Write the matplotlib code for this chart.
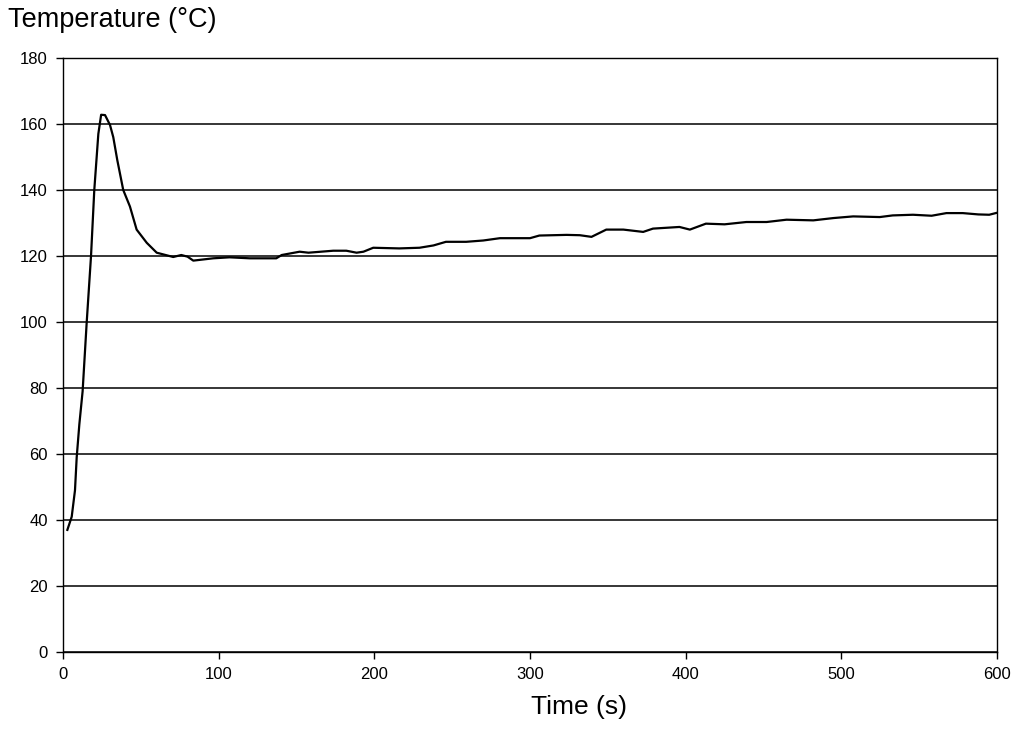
import numpy as np
from matplotlib import pyplot as plt

plt.rcParams['font.family'] = ['Liberation Sans', 'DejaVu Sans']

# values
time_s = [2.8, 5.6, 7.7, 8.8, 10.5, 12.6, 15.2, 18.0, 20.1, 22.7, 24.5, 27.0,
          30.2, 32.3, 34.9, 38.7, 43.0, 47.3, 53.8, 60.2, 70.8, 76.0, 80.0,
          83.7, 96.5, 107.0, 120.0, 137.0, 140.5, 152.0, 157.7, 173.6, 182.0,
          188.6, 193.0, 199.3, 216.0, 229.0, 238.0, 246.0, 259.0, 270.0,
          280.7, 300.0, 306.0, 323.5, 332.0, 339.5, 349.0, 360.0, 372.7, 379.0,
          396.0, 402.7, 413.0, 425.0, 439.0, 452.0, 464.8, 482.0, 495.0, 507.6,
          524.7, 533.0, 546.0, 558.0, 567.5, 578.0, 588.0, 595.0, 600.0]
temp_c = [37.0, 41.0, 49.0, 59.0, 69.0, 79.0, 99.7, 120.0, 140.0, 157.0, 162.8,
          162.7, 159.7, 156.0, 149.0, 140.0, 135.0, 128.0, 124.0, 121.0, 119.7,
          120.3, 119.8, 118.6, 119.3, 119.6, 119.3, 119.3, 120.3, 121.3, 121.0,
          121.6, 121.6, 121.0, 121.3, 122.5, 122.3, 122.5, 123.2, 124.3, 124.3,
          124.7, 125.4, 125.4, 126.2, 126.4, 126.3, 125.8, 128.0, 128.0, 127.3,
          128.3, 128.8, 128.0, 129.8, 129.6, 130.3, 130.3, 131.0, 130.8, 131.5,
          132.0, 131.8, 132.3, 132.5, 132.2, 133.0, 133.0, 132.6, 132.5, 133.1]
x_ticks = [0, 100, 200, 300, 400, 500, 600]
y_ticks = [0, 20, 40, 60, 80, 100, 120, 140, 160, 180]

fig = plt.figure(figsize=(10.14, 7.39), dpi=100)
ax = fig.add_axes([63 / 1014, 87 / 739, 934 / 1014, 594 / 739])

ax.plot(time_s, temp_c, color='black', linewidth=1.6)

ax.set_xlim(0, 600)
ax.set_ylim(0, 180)
ax.set_xticks(x_ticks)
ax.set_yticks(y_ticks)
ax.tick_params(axis='both', labelsize=12, length=5, width=1, color='black', pad=6)
ax.yaxis.grid(True, color='black', linewidth=1.1)
ax.set_axisbelow(True)
for spine in ax.spines.values():
    spine.set_linewidth(1.0)
    spine.set_color('black')

fig.text(8 / 1014, 1 - 20 / 739, 'Temperature (°C)', fontsize=19.5,
         ha='left', va='center')
fig.text(579 / 1014, 1 - 707 / 739, 'Time (s)', fontsize=19,
         ha='center', va='center')

fig.savefig('out.png', dpi=100, facecolor='white')
